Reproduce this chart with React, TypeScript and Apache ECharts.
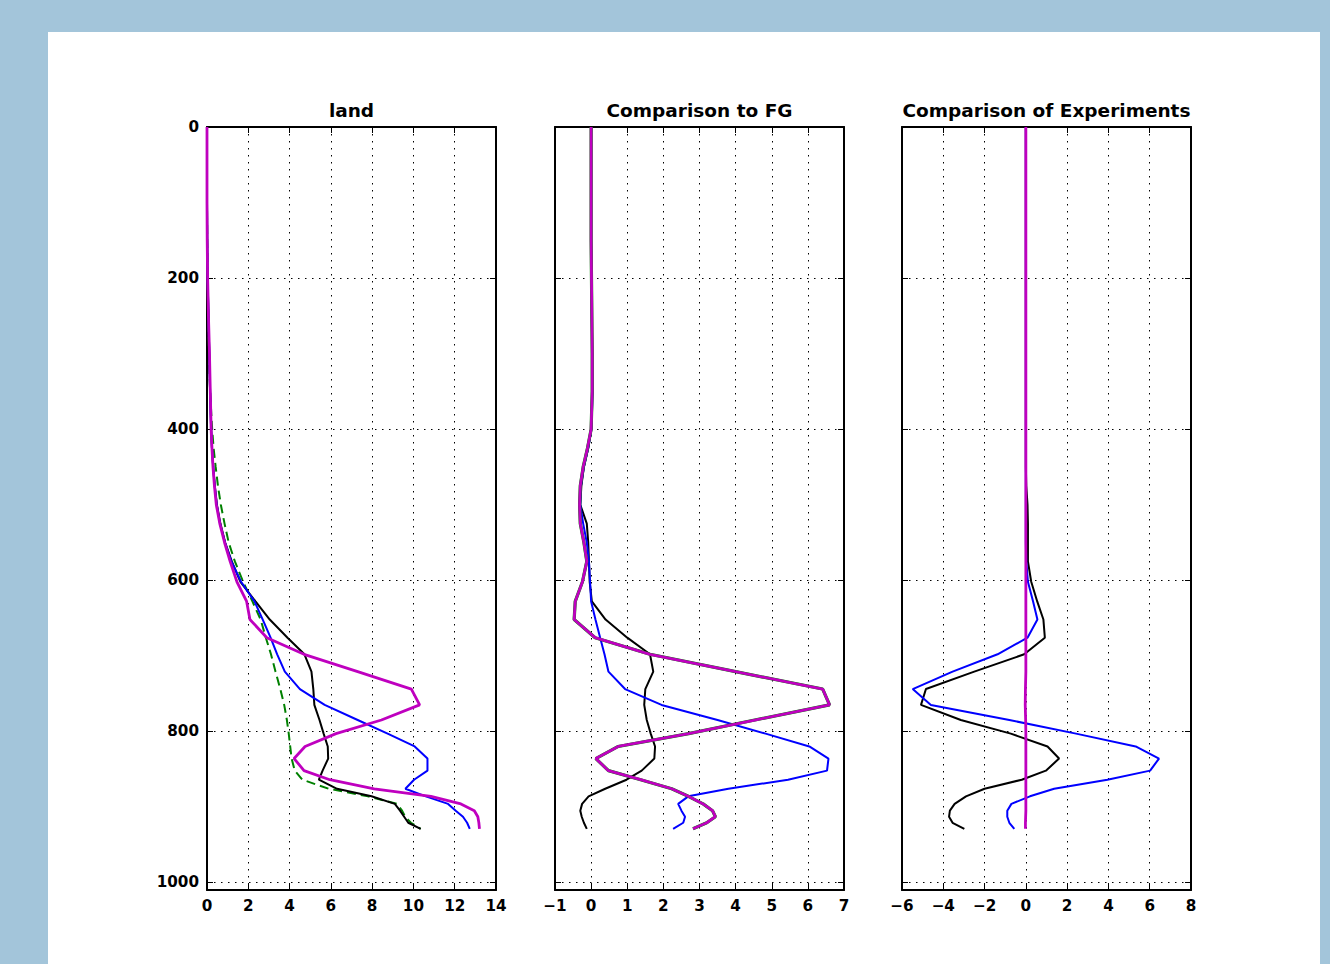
import React, { useEffect, useRef } from "react";
import * as echarts from "echarts";

// Pressure levels (hPa) shared by every profile
const LEVELS = [0, 50, 100, 150, 200, 250, 300, 350, 400, 425, 450, 475, 500, 525, 550, 575, 602, 628, 652, 676, 698, 721, 744, 765, 785, 803, 820, 836, 852, 864, 876, 886, 896, 905, 913, 921, 929];

// Panel "land"
const landBlack = [0, 0, 0, 0.01, 0.03, 0.07, 0.11, 0.15, 0.2, 0.24, 0.3, 0.38, 0.48, 0.65, 0.88, 1.2, 1.62, 2.35, 3.04, 3.9, 4.72, 5.06, 5.15, 5.2, 5.45, 5.65, 5.85, 5.87, 5.6, 5.42, 6.3, 7.97, 9.1, 9.35, 9.55, 9.75, 10.35];
const landBlue = [0, 0, 0, 0.01, 0.03, 0.07, 0.11, 0.15, 0.2, 0.24, 0.3, 0.37, 0.47, 0.63, 0.87, 1.18, 1.65, 2.3, 2.7, 3.08, 3.4, 3.77, 4.5, 5.7, 7.3, 8.75, 10.06, 10.68, 10.68, 10.03, 9.61, 10.6, 11.68, 12.05, 12.4, 12.6, 12.73];
const landMagenta = [0, 0, 0, 0.01, 0.03, 0.07, 0.12, 0.16, 0.2, 0.24, 0.29, 0.36, 0.45, 0.62, 0.85, 1.12, 1.45, 1.92, 2.08, 2.9, 4.7, 7.3, 9.9, 10.3, 8.45, 6.25, 4.75, 4.22, 4.7, 5.95, 8.1, 10.85, 12.3, 12.95, 13.12, 13.17, 13.2];
const landGreen = [0, 0, 0, 0.01, 0.03, 0.06, 0.1, 0.15, 0.25, 0.32, 0.42, 0.53, 0.67, 0.85, 1.05, 1.35, 1.75, 2.2, 2.6, 2.85, 3.1, 3.32, 3.55, 3.74, 3.87, 3.96, 4.03, 4.1, 4.25, 4.62, 5.9, 7.8, 9.2, 9.45, 9.6, 9.88, 10.35];

// Panel "Comparison to FG"
const fgBlack = [0, 0, 0, 0, 0.01, 0.02, 0.03, 0.03, 0, -0.08, -0.2, -0.27, -0.3, -0.12, -0.08, -0.06, -0.04, 0.02, 0.4, 1.0, 1.63, 1.72, 1.5, 1.47, 1.54, 1.65, 1.77, 1.75, 1.4, 0.98, 0.39, -0.07, -0.25, -0.3, -0.26, -0.2, -0.12];
const fgBlue = [0, 0, 0, 0, 0.01, 0.02, 0.03, 0.04, 0.01, -0.08, -0.2, -0.28, -0.3, -0.22, -0.12, -0.06, -0.03, 0, 0.12, 0.25, 0.37, 0.48, 0.94, 1.95, 3.5, 4.83, 6.04, 6.57, 6.53, 5.45, 3.8, 2.69, 2.41, 2.5, 2.6, 2.55, 2.27];
const fgMagenta = [0, 0, 0, 0, 0.01, 0.02, 0.03, 0.03, 0, -0.1, -0.22, -0.3, -0.32, -0.3, -0.2, -0.12, -0.24, -0.44, -0.47, 0.11, 1.63, 4.0, 6.41, 6.6, 4.53, 2.7, 0.75, 0.13, 0.48, 1.37, 2.23, 2.69, 3.1, 3.36, 3.44, 3.2, 2.82];

// Panel "Comparison of Experiments"
const expBlack = [0, 0, 0, 0, 0, 0, 0, 0, 0, 0, 0, 0.02, 0.08, 0.1, 0.1, 0.1, 0.26, 0.55, 0.85, 0.92, -0.08, -2.5, -4.84, -5.08, -3.15, -0.73, 1.05, 1.61, 0.97, -0.2, -2.0, -2.9, -3.45, -3.68, -3.72, -3.55, -2.98];
const expBlue = [0, 0, 0, 0, 0, 0, 0, 0, 0, 0, 0, 0, 0, 0, 0, 0.02, 0.1, 0.35, 0.56, 0.08, -1.37, -3.55, -5.48, -4.6, -0.8, 2.43, 5.32, 6.45, 6.02, 3.95, 1.37, 0.2, -0.7, -0.9, -0.9, -0.8, -0.56];
const expMagenta = [0, 0, 0, 0, 0, 0, 0, 0, 0, 0, 0, 0, 0, 0, 0, 0, 0, 0, 0, 0, 0, 0, -0.02, -0.03, -0.01, 0, 0, 0, 0, 0, 0, 0, 0, 0, -0.01, -0.02, -0.02];

const TITLES = ["land", "Comparison to FG", "Comparison of Experiments"];
const X_RANGES = [
  { min: 0, max: 14, interval: 2 },
  { min: -1, max: 7, interval: 1 },
  { min: -6, max: 8, interval: 2 },
];
const Y_MIN = 0;
const Y_MAX = 1010;
const Y_INTERVAL = 200;

const FONT = "'DejaVu Sans', 'Liberation Sans', sans-serif";
const GRID_LEFTS = [207, 555, 902];
const GRID_TOP = 127;
const GRID_W = 289;
const GRID_H = 763;

const profile = (vals: number[]) => vals.map((v, i) => [v, LEVELS[i]]);
const minus = (v: number) => String(v).replace("-", "\u2212");

export default function App() {
  const ref = useRef<HTMLDivElement>(null);

  useEffect(() => {
    if (!ref.current) return;
    const chart = echarts.init(ref.current, undefined, { renderer: "svg" });

    const panels = [
      [
        { data: landGreen, color: "#008000", width: 2, type: [9, 5] as any },
        { data: landBlack, color: "#000000", width: 2, type: "solid" },
        { data: landBlue, color: "#0000ff", width: 2, type: "solid" },
        { data: landMagenta, color: "#bf00bf", width: 2.8, type: "solid" },
      ],
      [
        { data: fgBlack, color: "#000000", width: 2, type: "solid" },
        { data: fgBlue, color: "#0000ff", width: 2, type: "solid" },
        { data: fgMagenta, color: "#008000", width: 3.2, type: "solid" },
        { data: fgMagenta, color: "#bf00bf", width: 2.8, type: "solid" },
      ],
      [
        { data: expBlack, color: "#000000", width: 2, type: "solid" },
        { data: expBlue, color: "#0000ff", width: 2, type: "solid" },
        { data: expMagenta, color: "#bf00bf", width: 2.8, type: "solid" },
      ],
    ];

    const grids: any[] = [];
    const xAxes: any[] = [];
    const yAxes: any[] = [];
    const series: any[] = [];
    const graphics: any[] = [
      {
        type: "rect",
        z: -100,
        silent: true,
        shape: { x: 48, y: 32, width: 1272, height: 940 },
        style: { fill: "#ffffff" },
      },
    ];

    const tickLabel = {
      color: "#000",
      fontFamily: FONT,
      fontWeight: "bold",
      fontSize: 15.2,
    };
    const frame = { onZero: false, lineStyle: { color: "#000", width: 2 } };
    const ticks = { inside: true, length: 6, lineStyle: { color: "#000", width: 1 } };
    const dotted = { show: true, lineStyle: { color: "#000", width: 1, type: [1.5, 5.5] } };

    for (let i = 0; i < 3; i++) {
      grids.push({ left: GRID_LEFTS[i], top: GRID_TOP, width: GRID_W, height: GRID_H });
      const xr = X_RANGES[i];
      xAxes.push({
        type: "value",
        gridIndex: i,
        position: "bottom",
        min: xr.min,
        max: xr.max,
        interval: xr.interval,
        axisLine: frame,
        axisTick: ticks,
        axisLabel: { ...tickLabel, margin: 8, formatter: (v: number) => minus(v) },
        splitLine: dotted,
      });
      xAxes.push({
        type: "value",
        gridIndex: i,
        position: "top",
        min: xr.min,
        max: xr.max,
        interval: xr.interval,
        axisLine: frame,
        axisTick: ticks,
        axisLabel: { show: false },
        splitLine: { show: false },
      });
      yAxes.push({
        type: "value",
        gridIndex: i,
        position: "left",
        inverse: true,
        min: Y_MIN,
        max: Y_MAX,
        interval: Y_INTERVAL,
        axisLine: frame,
        axisTick: ticks,
        axisLabel: {
          ...tickLabel,
          show: i === 0,
          margin: 8,
          formatter: (v: number) => (v % Y_INTERVAL === 0 ? String(v) : ""),
        },
        splitLine: dotted,
      });
      yAxes.push({
        type: "value",
        gridIndex: i,
        position: "right",
        inverse: true,
        min: Y_MIN,
        max: Y_MAX,
        interval: Y_INTERVAL,
        axisLine: frame,
        axisTick: ticks,
        axisLabel: { show: false },
        splitLine: { show: false },
      });

      panels[i].forEach((ln, k) => {
        series.push({
          type: "line",
          xAxisIndex: 2 * i,
          yAxisIndex: 2 * i,
          data: profile(ln.data),
          symbol: "none",
          showSymbol: false,
          clip: true,
          z: 3 + k,
          lineStyle: { color: ln.color, width: ln.width, type: ln.type },
        });
      });

      graphics.push({
        type: "text",
        x: GRID_LEFTS[i] + GRID_W / 2,
        y: 110,
        style: {
          text: TITLES[i],
          align: "center",
          verticalAlign: "middle",
          textAlign: "center",
          textVerticalAlign: "middle",
          fontFamily: FONT,
          fontWeight: "bold",
          fontSize: 18.5,
          fill: "#000",
        },
      });
    }

    chart.setOption({
      animation: false,
      backgroundColor: "#a3c5da",
      grid: grids,
      xAxis: xAxes,
      yAxis: yAxes,
      series,
      graphic: graphics,
    });

    return () => chart.dispose();
  }, []);

  return (
    <div
      ref={ref}
      style={{ position: "fixed", left: 0, top: 0, width: 1330, height: 964 }}
    />
  );
}
